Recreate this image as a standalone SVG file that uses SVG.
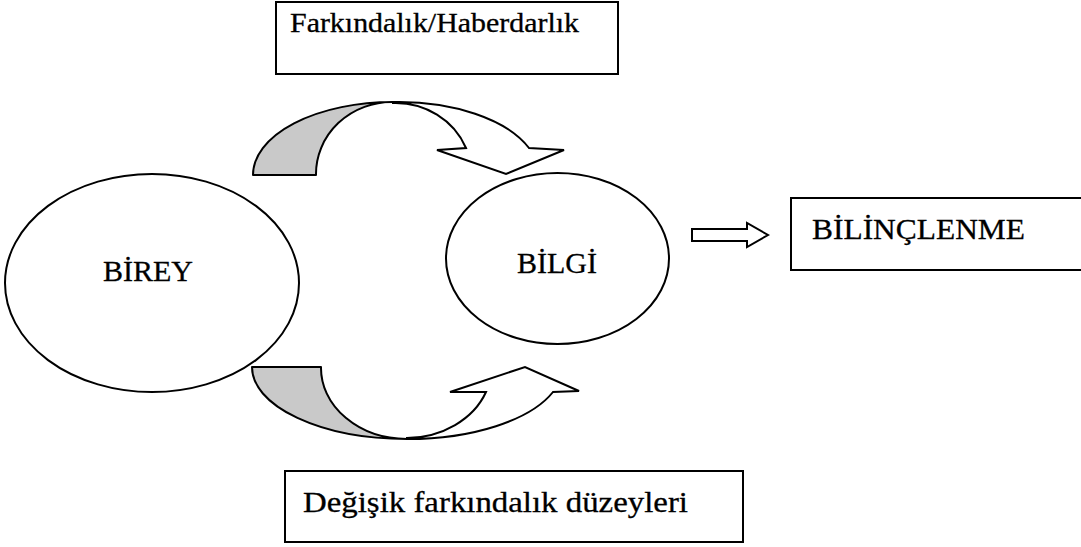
<svg xmlns="http://www.w3.org/2000/svg" width="1081" height="547" viewBox="0 0 1081 547">
<style>
.box{fill:#fff;stroke:#000;stroke-width:2}
.ell{fill:#fff;stroke:#000;stroke-width:2}
.shade{fill:#c9c9c9;stroke:#000;stroke-width:2;stroke-linejoin:round}
.white{fill:#fff;stroke:#000;stroke-width:2;stroke-linejoin:miter}
text{font-family:"Liberation Serif","Times New Roman",serif;fill:#000;stroke:#000;stroke-width:0.3}
</style>
<rect width="1081" height="547" fill="#fff"/>
<g id="node-farkindalik">
<rect class="box" x="276" y="2" width="342" height="72"/>
<text x="290" y="32" font-size="27" textLength="289" lengthAdjust="spacingAndGlyphs">Farkındalık/Haberdarlık</text>
</g>
<g id="node-birey">
<ellipse class="ell" cx="152" cy="283" rx="147" ry="109"/>
<text x="148" y="281" font-size="30" text-anchor="middle">BİREY</text>
</g>
<g id="node-bilgi">
<ellipse class="ell" cx="557.5" cy="258.5" rx="111.5" ry="85.5"/>
<text x="557" y="273" font-size="30" text-anchor="middle">BİLGİ</text>
</g>
<g id="node-bilinclenme">
<rect class="box" x="791" y="198" width="300" height="72"/>
<text x="812" y="239" font-size="30" textLength="213" lengthAdjust="spacingAndGlyphs">BİLİNÇLENME</text>
</g>
<g id="node-duzeyler">
<rect class="box" x="285" y="471" width="458" height="71"/>
<text x="303" y="512" font-size="30" textLength="385" lengthAdjust="spacingAndGlyphs">Değişik farkındalık düzeyleri</text>
</g>
<g id="connectors">
<path class="shade" d="M253,175 A140,73 0 0 1 393,102 A76,72 0 0 0 316,175 Z"/>
<path class="white" d="M393,102 A140,73 0 0 1 529,148 L564,150 L506,174 L437,150 L466,148 A76,72 0 0 0 393,103 Z"/>
<path class="shade" d="M252,367 A155,72 0 0 0 407,439 A86,71 0 0 1 321,367 Z"/>
<path class="white" d="M407,439 A155,72 0 0 0 553,392 L579,391 L525,367 L450,392 L486,392 A86,71 0 0 1 407,438 Z"/>
<path class="white" d="M692,229 L747,229 L747,223 L768,235 L747,247 L747,241 L692,241 Z"/>
</g>
</svg>
